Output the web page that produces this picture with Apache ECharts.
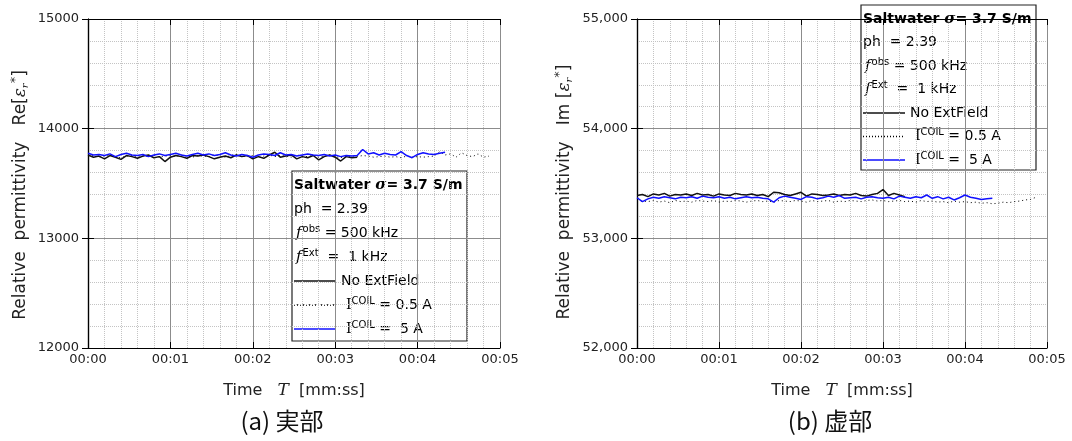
<!DOCTYPE html>
<html>
<head>
<meta charset="utf-8">
<script src="https://cdn.jsdelivr.net/npm/echarts@6/dist/echarts.min.js"></script>
<style>
  html, body { margin: 0; padding: 0; background: #fff; }
  #chart { width: 1072px; height: 441px; }
</style>
</head>
<body>
<div id="chart"></div>
<script>
// sample step of the recorded data, seconds
var STEP = 4;

var xTickLabels = ['00:00', '00:01', '00:02', '00:03', '00:04', '00:05'];

// Re[er*] : no external field / I=0.5 A / I=5 A
var reNoField = [13760,13740,13750,13725,13755,13740,13720,13755,13745,13730,
  13750,13760,13735,13745,13700,13740,13755,13745,13730,13755,
  13750,13760,13745,13725,13740,13750,13735,13760,13745,13755,
  13725,13745,13730,13760,13785,13740,13750,13760,13725,13745,
  13735,13755,13715,13745,13760,13740,13705,13745,13735,13740];
var reCoil05 = [13745,13755,13740,13750,13760,13745,13735,13750,13755,13740,
  13750,13745,13760,13740,13750,13755,13745,13760,13750,13740,
  13755,13750,13745,13760,13750,13740,13755,13765,13750,13745,
  13755,13740,13750,13760,13745,13755,13750,13740,13760,13750,
  13745,13755,13740,13750,13760,13745,13735,13750,13740,13745,
  13755,13750,13740,13745,13750,13740,13745,13735,13750,13740,
  13745,13740,13745,13750,13790,13760,13770,13740,13780,13755,
  13745,13770,13740,13750];
var reCoil5 = [13775,13760,13765,13755,13770,13745,13765,13775,13760,13755,
  13765,13745,13760,13770,13755,13765,13775,13760,13750,13765,
  13775,13760,13770,13755,13765,13780,13760,13750,13765,13755,
  13740,13760,13770,13765,13755,13780,13760,13765,13750,13760,
  13770,13760,13755,13765,13750,13760,13745,13755,13750,13755,
  13810,13770,13780,13760,13775,13765,13760,13790,13755,13735,
  13765,13780,13770,13765,13775,13785];

// Im[er*]
var imNoField = [53390,53400,53380,53405,53395,53410,53385,53400,53395,53405,
  53390,53410,53395,53400,53385,53405,53395,53390,53410,53400,
  53395,53405,53390,53400,53380,53420,53415,53400,53390,53405,
  53420,53385,53405,53400,53390,53395,53405,53390,53400,53395,
  53410,53390,53385,53400,53410,53445,53390,53410,53395,53380];
var imCoil05 = [53330,53340,53335,53345,53330,53340,53325,53345,53335,53340,
  53330,53345,53340,53335,53345,53330,53340,53335,53345,53340,
  53330,53340,53345,53335,53340,53330,53345,53340,53335,53345,
  53340,53330,53345,53335,53340,53345,53330,53340,53335,53345,
  53340,53335,53345,53350,53340,53345,53335,53340,53345,53335,
  53340,53330,53345,53335,53340,53330,53335,53325,53340,53330,
  53335,53325,53330,53320,53325,53315,53320,53330,53325,53335,
  53340,53350,53355,53375];
var imCoil5 = [53370,53335,53360,53375,53365,53380,53370,53360,53375,53370,
  53380,53365,53385,53375,53370,53380,53365,53375,53360,53370,
  53380,53370,53375,53365,53360,53330,53370,53385,53375,53365,
  53355,53380,53375,53360,53370,53385,53375,53390,53365,53370,
  53375,53360,53375,53380,53370,53365,53375,53360,53385,53375,
  53365,53380,53370,53395,53365,53380,53360,53375,53350,53370,
  53395,53375,53365,53355,53360,53365];

function toPairs(arr) {
  return arr.map(function (v, i) { return [i * STEP, v]; });
}

var FONT = 'DejaVu Sans';
var BLUE = '#1010ff';

function xAxes(grid) {
  return [{
    gridIndex: grid, type: 'value', min: 0, max: 300, interval: 60,
    axisLine: { lineStyle: { color: '#000', width: 1.2 } },
    axisTick: { inside: true, length: 6, lineStyle: { color: '#000' } },
    axisLabel: {
      color: '#222', fontFamily: FONT, fontSize: 13, margin: 5,
      formatter: function (v) { return xTickLabels[Math.round(v / 60)]; }
    },
    splitLine: { lineStyle: { color: '#8c8c8c', width: 1 } },
    minorTick: { show: false, splitNumber: 5 },
    minorSplitLine: { show: true, lineStyle: { color: '#c4c4c4', type: 'dotted' } },
    name: '{n|Time   }{i|T}{n|  [mm:ss]}',
    nameLocation: 'middle', nameGap: 34,
    nameTextStyle: {
      rich: {
        n: { fontFamily: FONT, fontSize: 16, color: '#222' },
        i: { fontFamily: 'DejaVu Serif', fontStyle: 'italic', fontSize: 17, color: '#222' }
      }
    }
  }, {
    gridIndex: grid, type: 'value', min: 0, max: 300, interval: 60, position: 'top',
    axisLine: { lineStyle: { color: '#000', width: 1.2 } },
    axisTick: { inside: true, length: 6, lineStyle: { color: '#000' } },
    axisLabel: { show: false }, splitLine: { show: false }
  }];
}

function yAxes(grid, min, max, label, pad) {
  var rich = {
    n: { fontFamily: FONT, fontSize: 17, color: '#222' },
    e: { fontFamily: 'DejaVu Serif', fontStyle: 'italic', fontSize: 17, color: '#222' },
    sub: { fontFamily: 'DejaVu Serif', fontStyle: 'italic', fontSize: 10, color: '#222', padding: [9, 0, 0, 0] },
    sup: { fontFamily: FONT, fontSize: 13, color: '#222', padding: [0, 0, 11, 0] }
  };
  return [{
    gridIndex: grid, type: 'value', min: min, max: max, interval: 1000,
    axisLine: { show: true, lineStyle: { color: '#000', width: 1.2 } },
    axisTick: { show: true, inside: true, length: 6, lineStyle: { color: '#000' } },
    axisLabel: { color: '#222', fontFamily: FONT, fontSize: 13, margin: 9, formatter: label },
    splitLine: { lineStyle: { color: '#8c8c8c', width: 1 } },
    minorTick: { show: false, splitNumber: 5 },
    minorSplitLine: { show: true, lineStyle: { color: '#c4c4c4', type: 'dotted' } },
    name: grid === 0 ? '{n|Relative  permittivity   Re[}{e|ε}{sub|r}{sup|*}{n|]}'
                     : '{n|Relative  permittivity   Im [}{e|ε}{sub|r}{sup|*}{n|]}',
    nameLocation: 'middle', nameRotate: 90, nameGap: grid === 0 ? 55 : 60,
    nameTextStyle: { rich: rich, padding: [0, pad, 0, 0] }
  }, {
    gridIndex: grid, type: 'value', min: min, max: max, interval: 1000, position: 'right',
    axisLine: { show: true, lineStyle: { color: '#000', width: 1.2 } },
    axisTick: { show: true, inside: true, length: 6, lineStyle: { color: '#000' } },
    axisLabel: { show: false }, splitLine: { show: false }
  }];
}

function series(xi, yi, noField, coil05, coil5) {
  return [
    { type: 'line', xAxisIndex: xi, yAxisIndex: yi, data: toPairs(coil05), showSymbol: false,
      lineStyle: { color: '#000', width: 1, type: [1, 3] }, z: 2 },
    { type: 'line', xAxisIndex: xi, yAxisIndex: yi, data: toPairs(noField), showSymbol: false,
      lineStyle: { color: '#111', width: 1.5 }, z: 3 },
    { type: 'line', xAxisIndex: xi, yAxisIndex: yi, data: toPairs(coil5), showSymbol: false,
      lineStyle: { color: BLUE, width: 1.5 }, z: 4 }
  ];
}

var legRich = {
  n: { fontFamily: FONT, fontSize: 14, color: '#111' },
  b: { fontFamily: FONT, fontSize: 14, fontWeight: 'bold', color: '#111' },
  s: { fontFamily: 'DejaVu Serif', fontStyle: 'italic', fontWeight: 'bold', fontSize: 15, color: '#111' },
  f: { fontFamily: 'DejaVu Serif', fontStyle: 'italic', fontSize: 15, color: '#111', padding: [0, 1, 0, 2] },
  I: { fontFamily: 'DejaVu Serif', fontSize: 14, color: '#111' },
  sup: { fontFamily: FONT, fontSize: 10, color: '#111', padding: [0, 0, 8, 0] }
};

function legendBox(x, y, w, h, rowH) {
  var rows = [
    '{b|Saltwater }{s|σ}{b|= 3.7 S/m}',
    '{n|ph  = 2.39}',
    '{f|f}{sup|obs}{n| = 500 kHz}',
    '{f|f}{sup|Ext}{n|  =  1 kHz}'
  ];
  var children = [{
    type: 'rect', shape: { x: 0, y: 0, width: w, height: h },
    style: { fill: '#fff', stroke: '#222', lineWidth: 1.2 }
  }];
  rows.forEach(function (r, i) {
    children.push({ type: 'text', x: 2, y: 14 + i * rowH,
      style: { text: r, rich: legRich, verticalAlign: 'middle' } });
  });
  var items = [
    { text: '{n|No ExtField}', stroke: '#111', dash: null, tx: 49 },
    { text: '{I|I}{sup|COIL}{n| = 0.5 A}', stroke: '#000', dash: [1, 2], tx: 54 },
    { text: '{I|I}{sup|COIL}{n| =  5 A}', stroke: BLUE, dash: null, tx: 54 }
  ];
  items.forEach(function (it, k) {
    var yy = 14 + (4 + k) * rowH;
    children.push({ type: 'line', shape: { x1: 2, y1: yy, x2: 44, y2: yy },
      style: { stroke: it.stroke, lineWidth: 1.5, lineDash: it.dash } });
    children.push({ type: 'text', x: it.tx, y: yy,
      style: { text: it.text, rich: legRich, verticalAlign: 'middle' } });
  });
  return { type: 'group', x: x, y: y, z: 100, children: children };
}

var chart = echarts.init(document.getElementById('chart'), null, { renderer: 'canvas' });

var option = {
  backgroundColor: '#fff',
  animation: false,
  grid: [
    { left: 88, right: 572, top: 19, bottom: 93 },
    { left: 637, right: 25, top: 19, bottom: 93 }
  ],
  xAxis: xAxes(0).concat(xAxes(1)),
  yAxis: yAxes(0, 12000, 15000, function (v) { return String(v); }, 23)
    .concat(yAxes(1, 52000, 55000, function (v) { return v.toLocaleString('en-US'); }, 17)),
  series: series(0, 0, reNoField, reCoil05, reCoil5)
    .concat(series(2, 2, imNoField, imCoil05, imCoil5)),
  graphic: [
    legendBox(292, 171, 175, 170, 24),
    legendBox(861, 5, 175, 165, 23.5),
    { type: 'text', x: 282, y: 421, z: 100,
      style: { text: '(a) 実部', fontFamily: 'Noto Sans CJK JP', fontSize: 24, fill: '#111',
        align: 'center', verticalAlign: 'middle' } },
    { type: 'text', x: 830, y: 421, z: 100,
      style: { text: '(b) 虚部', fontFamily: 'Noto Sans CJK JP', fontSize: 24, fill: '#111',
        align: 'center', verticalAlign: 'middle' } }
  ]
};

chart.setOption(option);
</script>
</body>
</html>
